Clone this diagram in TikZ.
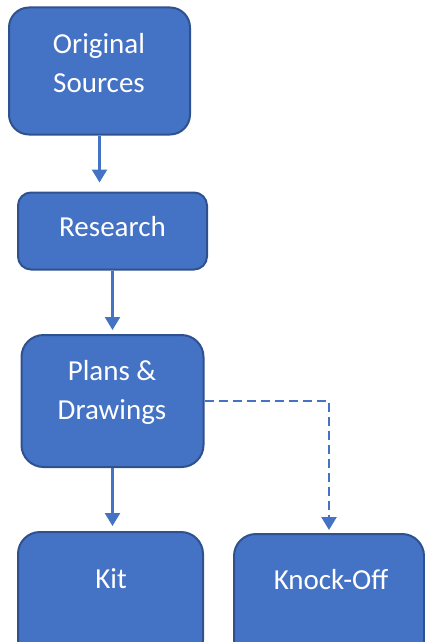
\documentclass[tikz,border=0pt]{standalone}
\usepackage{fontspec}
\setmainfont{Carlito}
\usetikzlibrary{arrows.meta}
\definecolor{boxfill}{HTML}{4472C4}
\definecolor{boxedge}{HTML}{2F528F}
\tikzset{
  box/.style={draw=boxedge, fill=boxfill, line width=2pt, inner sep=0pt},
  lbl/.style={text=white, font=\fontsize{29}{39}\selectfont, align=center, inner sep=0pt},
  conn/.style={draw=boxfill, line width=2.4pt, -{Triangle[width=15pt,length=13pt]}},
  dconn/.style={conn, dash pattern=on 9pt off 5pt}
}
\begin{document}
\begin{tikzpicture}[x=1pt,y=-1pt]
\useasboundingbox (0,0) rectangle (425,642);
\clip (0,0) rectangle (425,642);
\node[box, rounded corners=20pt, minimum width=181pt, minimum height=127pt] (src) at (99.5,71) {};
\node[box, rounded corners=13pt, minimum width=189pt, minimum height=77pt] (res) at (112.5,231) {};
\node[box, rounded corners=22pt, minimum width=182pt, minimum height=132pt] (plans) at (112.5,401) {};
\node[box, rounded corners=22pt, minimum width=185pt, minimum height=130pt] (kit) at (110.5,597) {};
\node[box, rounded corners=22pt, minimum width=190pt, minimum height=130pt] (ko) at (329,599) {};
\node[lbl] (tsrc) at (99,63) {Original\\Sources};
\node[lbl] (tres) at (112.5,227) {Research};
\node[lbl] (tplans) at (112,392) {Plans \&\\Drawings};
\node[lbl] (tkit) at (111,579) {Kit};
\node[lbl] (tko) at (331,580) {Knock-Off};
\draw[conn, shorten >=9pt] (src.south) -- (src.south |- res.north);
\draw[conn, shorten >=4pt] (res.south) -- (plans.north);
\draw[conn, shorten >=5pt] (plans.south) -- (plans.south |- kit.north);
\draw[dconn, shorten >=3pt] (plans.east) -| (ko.north);
\end{tikzpicture}
\end{document}
